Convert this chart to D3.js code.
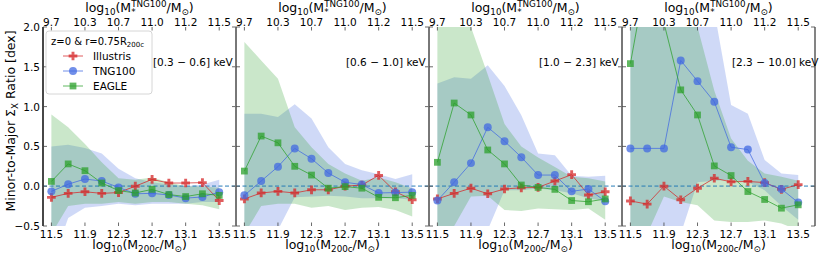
<!DOCTYPE html>
<html>
<head>
<meta charset="utf-8">
<script src="https://cdn.jsdelivr.net/npm/d3@7"></script>
<style>
  body { margin: 0; background: #fff; }
  text { font-family: "DejaVu Sans", sans-serif; fill: #000; }
</style>
</head>
<body>
<svg id="chart" width="822" height="254"></svg>
<script>
// halo mass bins (log10 M200c)
const xs = [11.5, 11.7, 11.9, 12.1, 12.3, 12.5, 12.7, 12.9, 13.1, 13.3, 13.5];
const bands = ['[0.3 \u2212 0.6] keV', '[0.6 \u2212 1.0] keV', '[1.0 \u2212 2.3] keV', '[2.3 \u2212 10.0] keV'];
const xTicks = [11.5, 11.9, 12.3, 12.7, 13.1, 13.5];
const topTickLabels = ['9.7', '10.3', '10.7', '11.0', '11.2', '11.5'];
const yTicks = [-0.5, 0, 0.5, 1, 1.5, 2];

// medians, one row per energy band
const illustris = [
  [-0.14, -0.09, -0.07, -0.09, -0.08, 0.00, 0.085, 0.04, 0.04, 0.045, -0.18],
  [-0.16, -0.085, -0.065, -0.085, -0.045, -0.045, 0.00, 0.015, 0.135, -0.07, -0.17],
  [-0.16, -0.09, -0.025, -0.095, -0.035, -0.02, -0.015, 0.065, 0.145, -0.11, -0.07],
  [-0.185, -0.225, 0.00, -0.17, -0.025, 0.10, 0.055, 0.06, 0.045, -0.04, 0.02]
];
const tng = [
  [-0.065, 0.025, 0.09, 0.065, -0.015, -0.095, -0.09, -0.11, -0.15, -0.135, -0.075],
  [-0.115, 0.065, 0.245, 0.475, 0.345, 0.165, 0.05, 0.02, -0.085, -0.08, -0.075],
  [-0.18, 0.05, 0.29, 0.74, 0.565, 0.365, 0.14, 0.14, -0.065, -0.035, -0.19],
  [0.475, 0.475, 0.475, 1.58, 1.32, 1.06, 0.49, 0.46, 0.04, -0.035, -0.205]
];
const eagle = [
  [0.06, 0.28, 0.195, 0.04, -0.055, -0.085, -0.04, -0.105, -0.13, -0.095, -0.115],
  [0.19, 0.63, 0.545, 0.25, 0.14, -0.025, -0.005, -0.025, -0.14, -0.145, -0.115],
  [0.30, 1.045, 0.895, 0.455, 0.28, 0.015, -0.015, -0.04, -0.18, -0.195, -0.16],
  [1.54, 2.7, 2.05, 1.21, 0.895, 0.255, 0.134, -0.067, -0.167, -0.276, -0.234]
];
// scatter bands
const tngLo = [
  [-1.0, -0.4, -0.27, -0.25, -0.22, -0.24, -0.22, -0.22, -0.22, -0.2, -0.2],
  [-1.2, -0.5, -0.55, -0.14, -0.13, -0.12, -0.13, -0.15, -0.15, -0.15, -0.17],
  [-1.2, -0.7, -0.6, -0.55, -0.05, -0.05, -0.03, -0.05, -0.09, -0.15, -0.19],
  [-1.2, -1.0, -0.8, -0.6, 0.05, 0.07, 0.08, 0.05, -0.05, -0.25, -0.42]
];
const tngHi = [
  [0.50, 0.52, 0.48, 0.41, 0.22, 0.10, 0.05, 0.02, 0.0, 0.02, 0.08],
  [0.91, 0.91, 0.87, 1.03, 0.85, 0.49, 0.28, 0.20, 0.15, 0.09, 0.15],
  [1.29, 1.37, 1.35, 1.52, 1.26, 0.89, 0.41, 0.39, 0.13, 0.12, 0.13],
  [3.0, 3.0, 3.0, 3.0, 2.6, 2.2, 1.02, 0.91, 0.33, 0.16, 0.14]
];
const eagleLo = [
  [-0.6, -0.25, -0.22, -0.22, -0.2, -0.22, -0.2, -0.2, -0.22, -0.24, -0.29],
  [-0.6, -0.25, -0.22, -0.22, -0.27, -0.25, -0.3, -0.27, -0.26, -0.3, -0.38],
  [-0.6, -0.5, -0.13, -0.12, -0.3, -0.31, -0.28, -0.29, -0.3, -0.28, -0.42],
  [-0.8, -0.6, -0.13, -0.2, -0.24, -0.43, -0.45, -0.45, -0.43, -0.47, -0.55]
];
const eagleHi = [
  [0.90, 0.74, 0.53, 0.30, 0.10, 0.08, 0.11, 0.05, 0.00, 0.00, -0.02],
  [1.81, 1.58, 1.35, 0.74, 0.49, 0.28, 0.16, 0.07, 0.11, 0.05, -0.03],
  [2.5, 2.4, 2.0, 1.4, 0.78, 0.5, 0.36, 0.24, 0.12, 0.1, 0.06],
  [3.0, 3.0, 3.0, 2.6, 2.0, 1.2, 0.6, 0.32, 0.16, 0.12, 0.07]
];

const svg = d3.select('#chart');
const margin = {top: 27, left: 43};
const panelW = 193, panelH = 199;

const red = '#d62728', blue = '#4169e1', green = '#2ca02c';

const x = d3.scaleLinear().domain([11.4, 13.7]).range([0, panelW]);
const y = d3.scaleLinear().domain([-0.5, 2.0]).range([panelH, 0]);

// text with sub/superscripts, parts = [text, kind]
// kind 'supback' = superscript stacked over the previous subscript
function rich(parent, px, py, parts, size, anchor) {
  const t = parent.append('text')
    .attr('x', px).attr('y', py)
    .attr('font-size', size)
    .attr('text-anchor', anchor || 'start');
  let shift = 0, lastLen = 0;
  parts.forEach(([s, kind]) => {
    let target = 0;
    if (kind === 'sub') target = size * 0.26;
    if (kind === 'sup' || kind === 'supback') target = -size * 0.4;
    const ts = t.append('tspan').text(s).attr('dy', target - shift);
    if (kind !== 'n') ts.attr('font-size', size * 0.7);
    if (kind === 'supback') ts.attr('dx', -lastLen);
    shift = target;
    lastLen = ts.node().getComputedTextLength();
  });
  return t;
}

const defs = svg.append('defs');
defs.append('clipPath').attr('id', 'clip')
  .append('rect').attr('width', panelW).attr('height', panelH);

bands.forEach((band, p) => {
  const g = svg.append('g')
    .attr('transform', `translate(${margin.left + p * panelW}, ${margin.top})`);

  const plot = g.append('g').attr('clip-path', 'url(#clip)');

  const area = (lo, hi) => d3.area()
    .x((d, i) => x(xs[i]))
    .y0((d, i) => y(lo[i]))
    .y1((d, i) => y(hi[i]));

  plot.append('path')
    .attr('d', area(tngLo[p], tngHi[p])(xs))
    .attr('fill', blue).attr('fill-opacity', 0.25);
  plot.append('path')
    .attr('d', area(eagleLo[p], eagleHi[p])(xs))
    .attr('fill', green).attr('fill-opacity', 0.25);

  plot.append('line')
    .attr('x1', 0).attr('x2', panelW)
    .attr('y1', y(0)).attr('y2', y(0))
    .attr('stroke', '#1f77b4').attr('stroke-opacity', 0.55)
    .attr('stroke-width', 1.8).attr('stroke-dasharray', '4,2.5');

  const line = vals => d3.line().x((d, i) => x(xs[i])).y((d, i) => y(vals[i]))(xs);

  const series = [
    {vals: illustris[p], color: red, sym: d3.symbolCross, size: 42},
    {vals: tng[p], color: blue, sym: d3.symbolCircle, size: 50},
    {vals: eagle[p], color: green, sym: d3.symbolSquare, size: 46}
  ];
  series.forEach(s => {
    plot.append('path').attr('d', line(s.vals))
      .attr('fill', 'none').attr('stroke', s.color)
      .attr('stroke-opacity', 0.75).attr('stroke-width', 1);
    plot.selectAll(null).data(s.vals).enter()
      .append('path')
      .attr('transform', (d, i) => `translate(${x(xs[i])},${y(d)})`)
      .attr('d', d3.symbol().type(s.sym).size(s.size))
      .attr('fill', s.color).attr('fill-opacity', 0.75);
  });

  // frame: vertical spines
  g.append('line').attr('x1', 0).attr('x2', 0).attr('y1', 0).attr('y2', panelH)
    .attr('stroke', p === 0 ? '#333' : '#777').attr('stroke-width', 1.8);
  g.append('line').attr('x1', panelW).attr('x2', panelW).attr('y1', 0).attr('y2', panelH)
    .attr('stroke', '#777').attr('stroke-width', 1.8);

  // inward ticks
  yTicks.forEach(v => {
    g.append('line').attr('x1', 0).attr('x2', 4).attr('y1', y(v)).attr('y2', y(v))
      .attr('stroke', '#444').attr('stroke-width', 0.8);
    g.append('line').attr('x1', panelW - 4).attr('x2', panelW).attr('y1', y(v)).attr('y2', y(v))
      .attr('stroke', '#444').attr('stroke-width', 0.8);
  });
  xTicks.forEach((v, i) => {
    g.append('line').attr('x1', x(v)).attr('x2', x(v)).attr('y1', panelH).attr('y2', panelH - 3.5)
      .attr('stroke', '#444').attr('stroke-width', 0.8);
    g.append('line').attr('x1', x(v)).attr('x2', x(v)).attr('y1', 0).attr('y2', 3.5)
      .attr('stroke', '#444').attr('stroke-width', 0.8);
    g.append('text').attr('x', x(v)).attr('y', panelH + 11.5)
      .attr('text-anchor', 'middle').attr('font-size', 10.5).text(v.toFixed(1));
    g.append('text').attr('x', x(v)).attr('y', -1.5)
      .attr('text-anchor', 'middle').attr('font-size', 10.5).text(topTickLabels[i]);
  });

  if (p === 0) {
    yTicks.forEach(v => {
      g.append('text').attr('x', -3).attr('y', y(v) + 4)
        .attr('text-anchor', 'end').attr('font-size', 10.5)
        .text(v < 0 ? '\u2212' + Math.abs(v).toFixed(1) : v.toFixed(1));
    });
  }

  g.append('text').attr('x', 110).attr('y', 39)
    .attr('font-size', 10.5).text(band);

  rich(g, panelW / 2, panelH + 22.5,
    [['log', 'n'], ['10', 'sub'], ['(M', 'n'], ['200c', 'sub'], ['/M', 'n'], ['\u2299', 'sub'], [')', 'n']],
    12.5, 'middle');
  rich(g, panelW / 2, -15.5,
    [['log', 'n'], ['10', 'sub'], ['(M', 'n'], ['*', 'sub'], ['TNG100', 'supback'], ['/M', 'n'], ['\u2299', 'sub'], [')', 'n']],
    12.5, 'middle');
});

// y label
const yl = svg.append('g').attr('transform', 'translate(15, 121) rotate(-90)');
rich(yl, 0, 0,
  [['Minor-to-Major \u03a3', 'n'], ['X', 'sub'], [' Ratio [dex]', 'n']], 12.5, 'middle');

// legend
const leg = svg.append('g').attr('transform', 'translate(46, 31)');
leg.append('rect').attr('width', 106).attr('height', 63).attr('rx', 3)
  .attr('fill', '#fff').attr('fill-opacity', 0.85)
  .attr('stroke', '#ccc').attr('stroke-width', 0.8);
rich(leg, 5, 13.5, [['z=0 & r=0.75R', 'n'], ['200c', 'sub']], 10, 'start');
const legItems = [
  {name: 'Illustris', color: red, sym: d3.symbolCross, size: 42},
  {name: 'TNG100', color: blue, sym: d3.symbolCircle, size: 50},
  {name: 'EAGLE', color: green, sym: d3.symbolSquare, size: 46}
];
legItems.forEach((d, i) => {
  const cy = 25 + i * 15;
  leg.append('line').attr('x1', 17).attr('x2', 37).attr('y1', cy).attr('y2', cy)
    .attr('stroke', d.color).attr('stroke-opacity', 0.75);
  leg.append('path').attr('transform', `translate(27,${cy})`)
    .attr('d', d3.symbol().type(d.sym).size(d.size))
    .attr('fill', d.color).attr('fill-opacity', 0.75);
  leg.append('text').attr('x', 47).attr('y', cy + 4)
    .attr('font-size', 10.5).text(d.name);
});
</script>
</body>
</html>
